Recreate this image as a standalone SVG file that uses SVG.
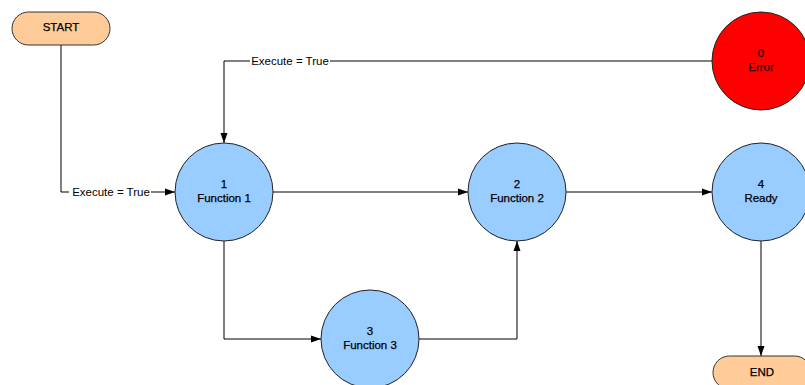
<svg xmlns="http://www.w3.org/2000/svg" width="805" height="385" viewBox="0 0 805 385">
  <style>
    .term { fill: #FFCC99; stroke: #333; stroke-width: 1; }
    .state { fill: #99CCFF; stroke: #222; stroke-width: 1; }
    .err { fill: #FF0000; stroke: #222; stroke-width: 1; }
    .lbl { font-family: "Liberation Sans", Arial, sans-serif; font-size: 11.5px; fill: #000; text-anchor: middle; stroke: #000; stroke-width: 0.25; }
    .edge { fill: none; stroke: #000; stroke-width: 1; }
    .elbl { font-family: "Liberation Sans", Arial, sans-serif; font-size: 11.5px; fill: #000; text-anchor: middle; }
  </style>
  <defs>
    <marker id="arrow" viewBox="0 0 10 10" refX="10" refY="5" markerWidth="10" markerHeight="10" markerUnits="userSpaceOnUse" orient="auto">
      <path d="M0,1.5 L10,5 L0,8.5 Z" fill="#000"/>
    </marker>
  </defs>
  <rect width="805" height="385" fill="#fff"/>

  <g id="connectors">
    <path class="edge" d="M61,45 V192 H175" marker-end="url(#arrow)"/>
    <rect x="69" y="185" width="82" height="13" fill="#fff"/>
    <text class="elbl" x="111" y="196">Execute = True</text>

    <path class="edge" d="M713,61 H224 V143" marker-end="url(#arrow)"/>
    <rect x="250" y="54" width="80" height="13" fill="#fff"/>
    <text class="elbl" x="290" y="65">Execute = True</text>

    <path class="edge" d="M273,192 H468" marker-end="url(#arrow)"/>
    <path class="edge" d="M566,192 H712" marker-end="url(#arrow)"/>
    <path class="edge" d="M224,241 V339 H321" marker-end="url(#arrow)"/>
    <path class="edge" d="M419,339 H517 V241" marker-end="url(#arrow)"/>
    <path class="edge" d="M761,241 V356" marker-end="url(#arrow)"/>
  </g>

  <g id="start">
    <rect class="term" x="12" y="12" width="98" height="33" rx="16.5"/>
    <text class="lbl" x="61" y="31">START</text>
  </g>

  <g id="state-0">
    <circle class="err" cx="761" cy="61" r="49"/>
    <text class="lbl" x="761" y="57">0</text>
    <text class="lbl" x="761" y="71">Error</text>
  </g>

  <g id="state-1">
    <circle class="state" cx="224" cy="192" r="49"/>
    <text class="lbl" x="224" y="188">1</text>
    <text class="lbl" x="224" y="202">Function 1</text>
  </g>

  <g id="state-2">
    <circle class="state" cx="517" cy="192" r="49"/>
    <text class="lbl" x="517" y="188">2</text>
    <text class="lbl" x="517" y="202">Function 2</text>
  </g>

  <g id="state-3">
    <circle class="state" cx="370" cy="339" r="49"/>
    <text class="lbl" x="370" y="335">3</text>
    <text class="lbl" x="370" y="349">Function 3</text>
  </g>

  <g id="state-4">
    <circle class="state" cx="761" cy="192" r="49"/>
    <text class="lbl" x="761" y="188">4</text>
    <text class="lbl" x="761" y="202">Ready</text>
  </g>

  <g id="end">
    <rect class="term" x="713" y="356" width="98" height="33" rx="16.5"/>
    <text class="lbl" x="762" y="376">END</text>
  </g>
</svg>
